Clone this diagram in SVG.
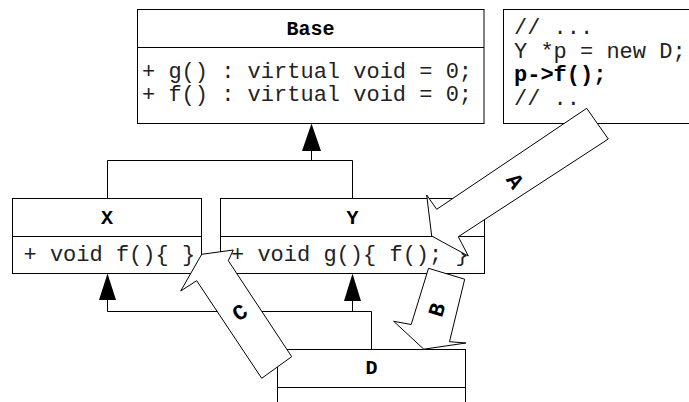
<svg xmlns="http://www.w3.org/2000/svg" width="689" height="402" viewBox="0 0 689 402">
<defs>
<style>
.box{fill:#fff;stroke:#000;stroke-width:1}
.ln{fill:none;stroke:#000;stroke-width:1}
.t{font-family:"Liberation Mono","Courier New",monospace;font-size:22px;fill:#222}
.b{font-family:"Liberation Mono","Courier New",monospace;font-size:20px;font-weight:bold;fill:#000;text-anchor:middle}
.lbl{font-family:"Liberation Mono","Courier New",monospace;font-size:22px;font-weight:bold;fill:#000;text-anchor:middle}
.head{fill:#000;stroke:none}
.blk{fill:#fff;stroke:#000;stroke-width:1;stroke-linejoin:miter}
</style>
</defs>
<rect width="689" height="402" fill="#fff"/>

<g id="Base">
<rect class="box" x="137.5" y="9.5" width="346.5" height="114"/>
<line class="ln" x1="137.5" y1="47.5" x2="484" y2="47.5"/>
<text class="b" x="310.5" y="35">Base</text>
<text class="t" x="142" y="77.5">+ g() : virtual void = 0;</text>
<text class="t" x="142" y="100.5">+ f() : virtual void = 0;</text>
</g>

<g id="Note">
<rect class="box" x="503.5" y="9.5" width="200" height="114"/>
<text class="t" x="514" y="34">// ...</text>
<text class="t" x="514" y="57.5">Y *p = new D;</text>
<text class="t" x="514" y="81" style="font-weight:bold;fill:#000">p-&gt;f();</text>
<text class="t" x="514" y="104.5">// ..</text>
</g>

<g id="X">
<rect class="box" x="12.5" y="198.5" width="189" height="75"/>
<line class="ln" x1="12.5" y1="236.5" x2="201.5" y2="236.5"/>
<text class="b" x="107" y="223.5">X</text>
<text class="t" x="23.5" y="261">+ void f(){ }</text>
</g>

<g id="Y">
<rect class="box" x="220.5" y="198.5" width="264" height="75"/>
<line class="ln" x1="220.5" y1="236.5" x2="484.5" y2="236.5"/>
<text class="b" x="352.5" y="223.5">Y</text>
<text class="t" x="231" y="261">+ void g(){ f(); }</text>
</g>

<g id="D">
<rect class="box" x="277.5" y="349.5" width="188" height="70"/>
<line class="ln" x1="277.5" y1="387.5" x2="465.5" y2="387.5"/>
<text class="b" x="371.5" y="374">D</text>
</g>

<g id="connectors">
<polyline class="ln" points="107.5,198.5 107.5,160.5 352.5,160.5 352.5,198.5"/>
<line class="ln" x1="311.5" y1="150" x2="311.5" y2="160.5"/>
<polygon class="head" points="311.5,123.5 302,151 321,151"/>
<polyline class="ln" points="107.5,299 107.5,311.5 371.5,311.5 371.5,349.5"/>
<line class="ln" x1="352.5" y1="300" x2="352.5" y2="311.5"/>
<polygon class="head" points="107.5,273.5 99,300 116,300"/>
<polygon class="head" points="352.5,273.5 344,301 361,301"/>
</g>

<g id="arrowA">
<polygon class="blk" points="586.7,108.3 608.3,139 458.3,236.7 468.3,256 431.7,236 426.7,195 436.7,209.3"/>
<text class="lbl" transform="translate(515,181) rotate(56.3)" x="0" y="7">A</text>
</g>

<g id="arrowB">
<polygon class="blk" points="428.5,268.3 464.7,279.2 449.5,341.7 466,343 423.8,349.2 393.7,321.3 411.2,324.5"/>
<text class="lbl" transform="translate(437,310) rotate(-73)" x="0" y="7">B</text>
</g>

<g id="arrowC">
<polygon class="blk" points="201.7,254.3 233.3,250 228.3,260.7 291.7,356.7 261.7,378.3 196.7,280.7 180.7,291"/>
<text class="lbl" transform="translate(240,312.5) rotate(-33.5)" x="0" y="7">C</text>
</g>
</svg>
